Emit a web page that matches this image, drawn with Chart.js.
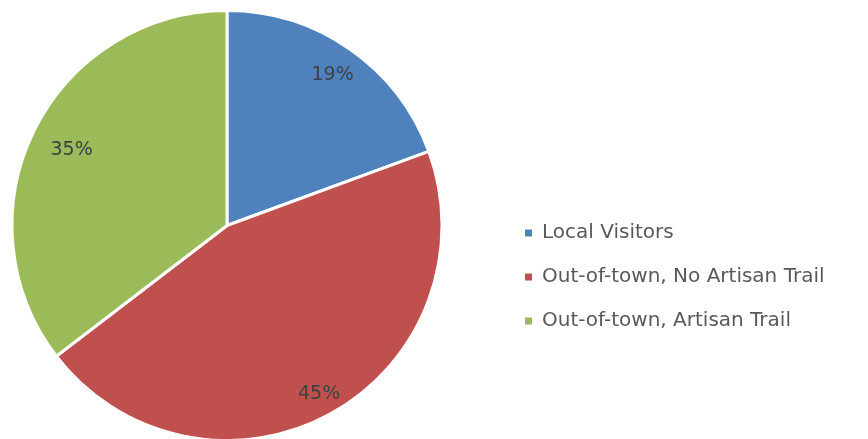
<!DOCTYPE html>
<html>
<head>
<meta charset="utf-8">
<script src="https://cdn.jsdelivr.net/npm/chart.js@4/dist/chart.umd.min.js"></script>
<style>
  body { margin: 0; background: #fff; }
  canvas { display: block; }
</style>
</head>
<body>
<canvas id="pieChart" width="868" height="439"></canvas>
<script>
const categories = ['Local Visitors', 'Out-of-town, No Artisan Trail', 'Out-of-town, Artisan Trail'];
const shares = [19.4, 45.2, 35.4];
const sliceColors = ['#4F81BD', '#C0504D', '#9BBB59'];

// how far out (fraction of radius) each percent label sits
const labelRadius = [0.858, 0.889, 0.806];

// percent labels drawn on the slices
const sliceLabels = {
  id: 'sliceLabels',
  afterDatasetsDraw(chart) {
    const ctx = chart.ctx;
    const arcs = chart.getDatasetMeta(0).data;
    ctx.save();
    ctx.font = '19px "DejaVu Sans"';
    ctx.fillStyle = '#404040';
    ctx.textAlign = 'center';
    ctx.textBaseline = 'middle';
    arcs.forEach((arc, i) => {
      const p = arc.getProps(['x', 'y', 'startAngle', 'endAngle', 'outerRadius'], true);
      const mid = (p.startAngle + p.endAngle) / 2;
      const r = p.outerRadius * labelRadius[i];
      ctx.fillText(Math.round(shares[i]) + '%', p.x + Math.cos(mid) * r, p.y + Math.sin(mid) * r + 1);
    });
    ctx.restore();
  }
};

// keep legend box a fixed width so the pie sits on the left, then nudge it
const legendPlace = {
  id: 'legendPlace',
  beforeLayout(chart) {
    const lg = chart.legend;
    if (lg && !lg._fixed) {
      const fit = lg.fit.bind(lg);
      lg.fit = function () { fit(); this.width = 414; };
      lg._fixed = true;
    }
  },
  afterLayout(chart) {
    const lg = chart.legend;
    const dx = 501 - lg.left;
    lg.left += dx; lg.right += dx;
    lg.top += 53; lg.bottom += 53;
    // let the pie run down to the bottom edge like the original
    const area = chart.chartArea;
    area.top = 9;
    area.bottom = 442;
    area.height = area.bottom - area.top;
  }
};

const chart = new Chart(document.getElementById('pieChart'), {
  type: 'pie',
  data: {
    labels: categories,
    datasets: [{
      data: shares,
      backgroundColor: sliceColors,
      borderColor: '#ffffff',
      borderWidth: 3
    }]
  },
  options: {
    responsive: false,
    animation: false,
    layout: { padding: { top: 9, bottom: 0, left: 0, right: 0 } },
    plugins: {
      tooltip: { enabled: false },
      legend: {
        position: 'right',
        labels: {
          boxWidth: 7,
          boxHeight: 7,
          padding: 24,
          color: '#595959',
          font: { family: '"DejaVu Sans"', size: 20 },
          generateLabels(chart) {
            const items = Chart.overrides.pie.plugins.legend.labels.generateLabels(chart);
            items.forEach(it => { it.lineWidth = 0; });
            return items;
          }
        }
      }
    }
  },
  plugins: [sliceLabels, legendPlace]
});
</script>
</body>
</html>
